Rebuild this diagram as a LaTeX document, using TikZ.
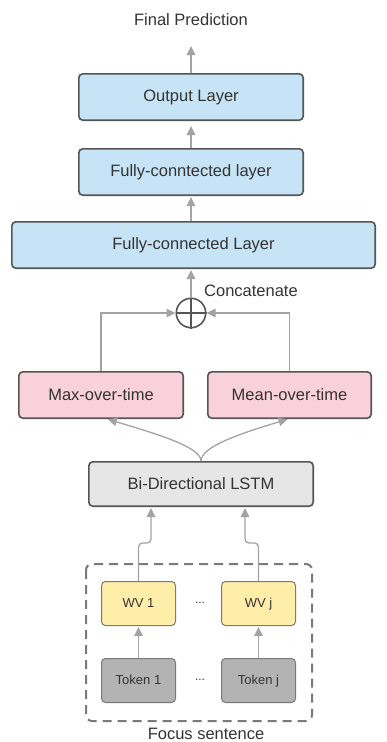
\documentclass[tikz,border=0pt]{standalone}
\usepackage{fontspec}
\setmainfont{Liberation Sans}
\usetikzlibrary{arrows.meta}

\definecolor{layerblue}{HTML}{C7E4F6}
\definecolor{poolpink}{HTML}{F9D1DC}
\definecolor{lstmgray}{HTML}{E6E6E6}
\definecolor{wvyellow}{HTML}{FFEDAA}
\definecolor{tokengray}{HTML}{B3B3B3}
\definecolor{edgegray}{HTML}{555555}
\definecolor{smallgray}{HTML}{7A7A7A}
\definecolor{arrowgray}{HTML}{A3A3A3}
\definecolor{textgray}{HTML}{333333}

\begin{document}
\begin{tikzpicture}[x=1pt,y=-1pt,
  layer/.style={draw=edgegray,line width=1.6pt,rounded corners=4pt,text=textgray,minimum height=46.4pt,font=\fontsize{16.5}{20}\selectfont},
  wordbox/.style={draw=smallgray,line width=1pt,rounded corners=4pt,text=textgray,minimum width=74pt,minimum height=44pt,text height=9.5pt,text depth=2.5pt,font=\fontsize{13}{16}\selectfont},
  plaintext/.style={text=textgray,inner sep=0pt,font=\fontsize{16.5}{20}\selectfont},
  arr/.style={draw=arrowgray,line width=1.3pt,-{Triangle[length=9pt,width=8.5pt]},shorten >=1pt}]
\useasboundingbox (0,0) rectangle (387,742);
% layers
\node[plaintext] (pred) at (191,20) {Final Prediction};
\node[layer,fill=layerblue,minimum width=224.4pt] (out) at (191,97) {Output Layer};
\node[layer,fill=layerblue,minimum width=224.4pt] (fc2) at (191,172) {Fully-conntected layer};
\node[layer,fill=layerblue,minimum width=363.4pt] (fc1) at (193.5,245) {Fully-connected Layer};
\node[draw=edgegray,line width=1.6pt,circle,minimum size=29.4pt,inner sep=0pt] (cat) at (191,313) {};
\node[plaintext,anchor=west] (catlbl) at (204,291) {Concatenate};
\node[layer,fill=poolpink,minimum width=164.4pt] (max) at (101,395) {Max-over-time};
\node[layer,fill=poolpink,minimum width=163.4pt] (mean) at (289.5,395) {Mean-over-time};
\node[layer,fill=lstmgray,minimum width=224.4pt,minimum height=44.4pt] (lstm) at (201,484) {Bi-Directional LSTM};
% focus sentence
\draw[color=smallgray,line width=2pt,dash pattern=on 9pt off 6pt,rounded corners=6pt] (86,564) rectangle (312,721);
\foreach \n/\x in {1/138.5,j/258.5} {
  \node[wordbox,fill=wvyellow] (wv\n) at (\x,603.5) {WV \n};
  \node[wordbox,fill=tokengray] (tok\n) at (\x,680.5) {Token \n};
}
\node[text=textgray,font=\fontsize{12}{14}\selectfont] (dotswv) at (200,603) {...};
\node[text=textgray,font=\fontsize{12}{14}\selectfont] (dotstok) at (200,680) {...};
\node[plaintext] (focus) at (206,733.5) {Focus sentence};
% connectors
\coordinate (predtip) at (191,45);
\draw[arr] (out.north) -- (predtip);
\draw[arr,shorten >=5pt] (fc2) -- (out);
\draw[arr] (fc1.north -| fc2) -- (fc2);
\draw[arr] (cat) -- (cat |- fc1.south);
\draw[edgegray,line width=1.6pt] (cat.north) -- (cat.south) (cat.west) -- (cat.east);
\draw[arr,shorten >=0pt] (max.north) |- (cat.west);
\draw[arr,shorten >=0pt] (mean.north) |- (cat.east);
\draw[arr] (lstm.north) .. controls +(0,-14) and +(50,15) .. ([xshift=6pt]max.south);
\draw[arr] (lstm.north) .. controls +(0,-14) and +(-50,15) .. ([xshift=-1pt]mean.south);
\coordinate (up1) at (151,543);
\coordinate (upj) at (245,543);
\draw[arr,rounded corners=4pt] (wv1.north) |- (up1) -- (up1 |- lstm.south);
\draw[arr,rounded corners=4pt] (wvj.north) |- (upj) -- (upj |- lstm.south);
\draw[arr] (tok1) -- (wv1);
\draw[arr] (tokj) -- (wvj);
\end{tikzpicture}
\end{document}
